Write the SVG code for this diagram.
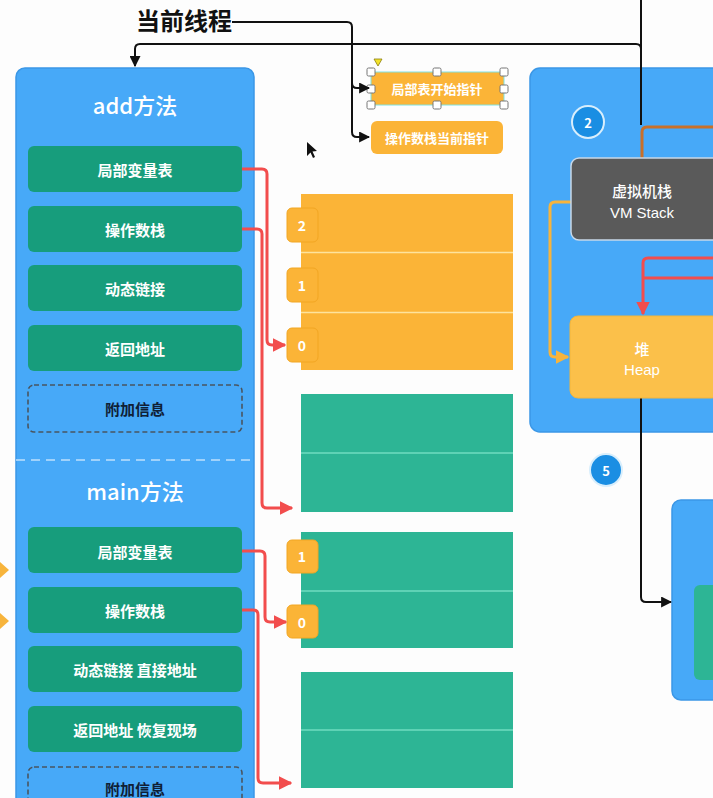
<svg xmlns="http://www.w3.org/2000/svg" width="713" height="798" viewBox="0 0 713 798">
<defs>
<style>
.panel{fill:#47a9f8;stroke:#3b97e6;stroke-width:1.5}
.g{fill:#179d7c}
.dash{fill:none;stroke:#4a5560;stroke-width:1.6;stroke-dasharray:5 3}
.t{font-family:"Noto Sans CJK SC","Liberation Sans",sans-serif;font-weight:bold;fill:#fff;text-anchor:middle;dominant-baseline:central}
.ttl{font-size:22px;font-weight:500}
.lb{font-size:15px}
.nw{font-weight:500}
.dk{fill:#0f2036}
.orng{fill:#fbb437}
.grn{fill:#2db595}
.tab{fill:#fbb437;stroke:#f2a623;stroke-width:1}
.div{stroke:#fde39d;stroke-width:1.5}
.divg{stroke:#6fdcc0;stroke-width:1.5}
.red{fill:none;stroke:#f24d4d;stroke-width:3;stroke-linejoin:round}
.blk{fill:none;stroke:#111;stroke-width:2}
.h{fill:#fff;stroke:#777;stroke-width:1}
</style>
<marker id="ar" viewBox="0 0 10 10" refX="9" refY="5" markerWidth="4.5" markerHeight="4.5" orient="auto" markerUnits="strokeWidth"><path d="M0,0 L10,5 L0,10 z" fill="#f24d4d"/></marker>
<marker id="ab" viewBox="0 0 10 10" refX="9" refY="5" markerWidth="5.5" markerHeight="5.5" orient="auto" markerUnits="strokeWidth"><path d="M0,0 L10,5 L0,10 z" fill="#111"/></marker>
<marker id="ao" viewBox="0 0 10 10" refX="9" refY="5" markerWidth="4.5" markerHeight="4.5" orient="auto" markerUnits="strokeWidth"><path d="M0,0 L10,5 L0,10 z" fill="#f7b43c"/></marker>
</defs>
<rect width="713" height="798" fill="#fdfdfd"/>

<!-- left edge orange arrowheads -->
<path d="M0,562 L9,570 L0,578 z" fill="#f7b43c"/>
<path d="M0,613 L9,621 L0,629 z" fill="#f7b43c"/>

<!-- Left panel -->
<g id="stack-panel">
<rect class="panel" x="16" y="68" width="238" height="760" rx="9"/>
<text class="t ttl" x="135" y="104">add方法</text>
<line x1="16" y1="460" x2="254" y2="460" stroke="#bfe0fb" stroke-width="1.6" stroke-dasharray="9 6"/>
<text class="t ttl" x="135" y="490">main方法</text>
</g>
<g id="add-locals"><rect class="g" x="28" y="146" width="214" height="46" rx="6"/><text class="t lb" x="135" y="169">局部变量表</text></g>
<g id="add-opstack"><rect class="g" x="28" y="206" width="214" height="46" rx="6"/><text class="t lb" x="135" y="229">操作数栈</text></g>
<g id="add-dynlink"><rect class="g" x="28" y="265" width="214" height="46" rx="6"/><text class="t lb" x="135" y="288">动态链接</text></g>
<g id="add-ret"><rect class="g" x="28" y="325" width="214" height="46" rx="6"/><text class="t lb" x="135" y="348">返回地址</text></g>
<g id="add-extra"><rect class="dash" x="28" y="385" width="214" height="47" rx="6"/><text class="t lb dk" x="135" y="408">附加信息</text></g>
<g id="main-locals"><rect class="g" x="28" y="527" width="214" height="46" rx="6"/><text class="t lb" x="135" y="551">局部变量表</text></g>
<g id="main-opstack"><rect class="g" x="28" y="587" width="214" height="46" rx="6"/><text class="t lb" x="135" y="610">操作数栈</text></g>
<g id="main-dynlink"><rect class="g" x="28" y="646" width="214" height="46" rx="6"/><text class="t lb" x="135" y="669">动态链接 直接地址</text></g>
<g id="main-ret"><rect class="g" x="28" y="706" width="214" height="46" rx="6"/><text class="t lb" x="135" y="729">返回地址 恢复现场</text></g>
<g id="main-extra"><rect class="dash" x="28" y="767" width="214" height="47" rx="6"/><text class="t lb dk" x="135" y="788">附加信息</text></g>

<!-- orange local var block -->
<g id="add-locals-block">
<rect class="orng" x="301" y="194" width="212" height="176"/>
<line class="div" x1="301" y1="252.5" x2="513" y2="252.5"/>
<line class="div" x1="301" y1="312.5" x2="513" y2="312.5"/>
<rect class="tab" x="287" y="208" width="31" height="34" rx="5"/><text class="t" font-size="14" x="302" y="225">2</text>
<rect class="tab" x="287" y="268" width="31" height="34" rx="5"/><text class="t" font-size="14" x="302" y="285">1</text>
<rect class="tab" x="287" y="328" width="31" height="34" rx="5"/><text class="t" font-size="14" x="302" y="345">0</text>
</g>
<g id="add-opstack-block">
<rect class="grn" x="301" y="394" width="212" height="118"/>
<line class="divg" x1="301" y1="453" x2="513" y2="453"/>
</g>
<g id="main-locals-block">
<rect class="grn" x="301" y="532" width="212" height="116"/>
<line class="divg" x1="301" y1="591" x2="513" y2="591"/>
<rect class="tab" x="287" y="540" width="31" height="33" rx="5"/><text class="t" font-size="14" x="302" y="556">1</text>
<rect class="tab" x="287" y="605" width="31" height="33" rx="5"/><text class="t" font-size="14" x="302" y="622">0</text>
</g>
<g id="main-opstack-block">
<rect class="grn" x="301" y="672" width="212" height="116"/>
<line class="divg" x1="301" y1="730" x2="513" y2="730"/>
</g>

<!-- pointer labels -->
<g id="ptr-start">
<rect x="371" y="72" width="133" height="33" rx="3" fill="#fbb437" stroke="#7fe3e3" stroke-width="1"/>
<text class="t" font-size="13" x="437" y="88">局部表开始指针</text>
</g>
<g id="ptr-current">
<rect x="371" y="121" width="132" height="33" rx="6" fill="#fbb437"/>
<text class="t" font-size="13" x="437" y="137">操作数栈当前指针</text>
</g>
<g id="selection-handles">
<rect class="h" x="367" y="68" width="8" height="8" rx="1.5"/>
<rect class="h" x="433" y="68" width="8" height="8" rx="1.5"/>
<rect class="h" x="500" y="68" width="8" height="8" rx="1.5"/>
<rect class="h" x="367" y="85" width="8" height="8" rx="1.5"/>
<rect class="h" x="500" y="85" width="8" height="8" rx="1.5"/>
<rect class="h" x="367" y="101" width="8" height="8" rx="1.5"/>
<rect class="h" x="433" y="101" width="8" height="8" rx="1.5"/>
<rect class="h" x="500" y="101" width="8" height="8" rx="1.5"/>
<path d="M374,59 L382,59 L378,66 z" fill="#f3e32a" stroke="#8a7d10" stroke-width="0.8"/>
</g>
<path d="M307,142 L307,156 L310.5,152.5 L313,158 L315,157 L312.5,151.5 L317,151 z" fill="#111"/>

<!-- right panel -->
<g id="runtime-panel">
<rect class="panel" x="530" y="68" width="200" height="364" rx="10"/>
</g>
<g id="badge-2">
<circle cx="588" cy="122" r="16" fill="#1a8ee3" stroke="#d8eefc" stroke-width="2"/>
<text class="t" font-size="13" x="588" y="122">2</text>
</g>
<g id="badge-5">
<circle cx="606" cy="470" r="16" fill="#1a8ee3" stroke="#d8eefc" stroke-width="2"/>
<text class="t" font-size="13" x="606" y="470">5</text>
</g>
<g id="right-bottom-panel">
<rect class="panel" x="672" y="500" width="60" height="200" rx="9"/>
<rect x="694" y="585" width="40" height="95" rx="6" fill="#2db595"/>
</g>

<!-- connectors -->
<g id="connectors">
<path class="red" d="M242,169 H262 Q267,169 267,174 V340 Q267,345 272,345 H285" marker-end="url(#ar)"/>
<path class="red" d="M242,229 H257 Q262,229 262,234 V503 Q262,508 267,508 H292" marker-end="url(#ar)"/>
<path class="red" d="M242,551 H260 Q265,551 265,556 V617 Q265,622 270,622 H286" marker-end="url(#ar)"/>
<path class="red" d="M242,610 H253 Q258,610 258,615 V778 Q258,783 263,783 H291" marker-end="url(#ar)"/>
<path class="red" d="M713,258 H648 Q643,258 643,263 V314" marker-end="url(#ar)"/>
<path class="red" d="M713,278 H643"/>
<path d="M571,202 H555 Q550,202 550,207 V352 Q550,357 555,357 H568" fill="none" stroke="#f7b43c" stroke-width="3" marker-end="url(#ao)"/>
<path d="M713,127 H647 Q642,127 642,132 V160" fill="none" stroke="#c8702a" stroke-width="3"/>
<path class="blk" d="M232,22 H347 Q352,22 352,27 V132 Q352,137 357,137 H369" marker-end="url(#ab)"/>
<path class="blk" d="M352,83 Q352,88 357,88 H369" marker-end="url(#ab)"/>
<path class="blk" d="M641,0 V125"/>
<path class="blk" d="M641,49 Q641,44 636,44 H140 Q135,44 135,49 V66" marker-end="url(#ab)"/>
<path class="blk" d="M641,398 V597 Q641,602 646,602 H671" marker-end="url(#ab)"/>
</g>

<g id="vm-stack">
<rect x="571" y="158" width="150" height="82" rx="8" fill="#5a5a5a" stroke="#c8d8e8" stroke-width="1.5"/>
<text class="t nw" font-size="15" x="642" y="190">虚拟机栈</text>
<text class="t nw" font-size="15" x="642" y="212" style="font-family:'Liberation Sans',sans-serif">VM Stack</text>
</g>
<g id="heap">
<rect x="570" y="316" width="150" height="82" rx="8" fill="#fbc04a" stroke="#f4b53a" stroke-width="1"/>
<text class="t nw" font-size="15" x="642" y="348">堆</text>
<text class="t nw" font-size="15" x="642" y="369" style="font-family:'Liberation Sans',sans-serif">Heap</text>
</g>

<g id="title">
<text x="136" y="30" font-family="'Noto Sans CJK SC',sans-serif" font-weight="bold" font-size="24" fill="#111">当前线程</text>
</g>
</svg>
